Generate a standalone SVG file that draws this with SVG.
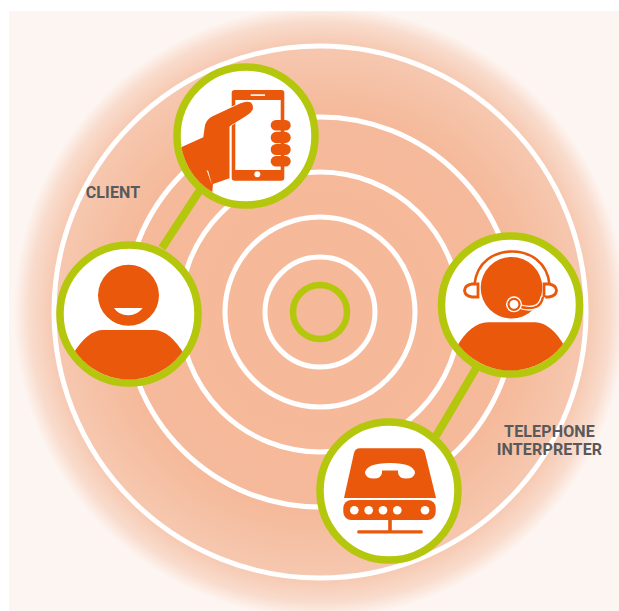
<svg xmlns="http://www.w3.org/2000/svg" width="619" height="611" viewBox="0 0 619 611">
<style>
.ring{fill:none;stroke:#fff;stroke-width:5}
.node{fill:#fff;stroke:#b4c70c;stroke-width:7.5}
.o{fill:#ea580c}
.w{fill:#fff}
.link{stroke:#b4c70c;stroke-width:8;fill:none}
text{font-family:Roboto,"Liberation Sans",Arial,sans-serif;font-weight:700;font-size:16px;letter-spacing:.15px;fill:#58595b}
</style>
<defs>
<radialGradient id="bg" gradientUnits="userSpaceOnUse" cx="320" cy="312" r="306">
<stop offset="0" stop-color="#f5b99a"/>
<stop offset=".66" stop-color="#f5ba9b"/>
<stop offset=".87" stop-color="#f6c8b0"/>
<stop offset=".95" stop-color="#f9dccd"/>
<stop offset="1" stop-color="#fdf5f1"/>
</radialGradient>
<clipPath id="cp"><circle cx="246" cy="136" r="65.5"/></clipPath>
<clipPath id="ci"><circle cx="510.5" cy="305" r="65.5"/></clipPath>
<clipPath id="cc"><circle cx="129" cy="314" r="65.5"/></clipPath>
</defs>
<rect x="9" y="11" width="610" height="600" fill="url(#bg)"/>
<g id="rings">
<circle class="ring" cx="320" cy="312" r="266"/>
<circle class="ring" cx="320" cy="312" r="195"/>
<circle class="ring" cx="320" cy="312" r="140"/>
<circle class="ring" cx="320" cy="312" r="95"/>
<circle class="ring" cx="320" cy="312" r="55"/>
</g>
<g id="connectors">
<line class="link" x1="162" y1="248" x2="200" y2="190"/>
<line class="link" x1="478" y1="365" x2="436" y2="436"/>
</g>
<circle id="center" cx="320" cy="312" r="27" fill="none" stroke="#b4c70c" stroke-width="6.5"/>
<g id="phone">
<circle class="node" cx="246" cy="136" r="69"/>
<rect class="o" x="231.7" y="90" width="52.6" height="90.7" rx="3"/>
<rect class="w" x="235.3" y="100" width="45.4" height="70"/>
<rect class="w" x="250.7" y="94.3" width="14.3" height="1.6"/>
<circle class="w" cx="257.3" cy="174.3" r="3"/>
<rect class="o" x="270.7" y="120" width="20" height="10.4" rx="5.2"/>
<rect class="o" x="270.7" y="131.8" width="20" height="11.4" rx="5.7"/>
<rect class="o" x="270.7" y="144" width="20" height="11" rx="5.5"/>
<rect class="o" x="270.7" y="156" width="20" height="10.4" rx="5.2"/>
<g clip-path="url(#cp)">
<path class="o" stroke="#fff" stroke-width="1.4" paint-order="stroke" d="M175 150L203.3 137.3L205 125Q207 119 212 116.5L240 103.5Q247 100.5 251 102.5Q254 106 252.5 110Q251 113 246 116L231.5 125L229.5 126.5V178.3L213 184L212 195L190 195Z"/>
<path class="w" d="M206.6 170L212 185L208.2 171Z"/>
</g>
</g>
<g id="client">
<circle class="node" cx="129" cy="314" r="69"/>
<circle class="o" cx="128.5" cy="295.3" r="30.5"/>
<path class="w" d="M114 308H142.7Q137 315.5 128.3 315.3Q119 315.5 114 308Z"/>
<path class="o" clip-path="url(#cc)" d="M73 354Q87 331 102 330H155Q170 331 184 354L190 390H68Z"/>
</g>
<g id="interpreter">
<circle class="node" cx="510.5" cy="305" r="69"/>
<circle class="o" cx="511.5" cy="287.7" r="30.8"/>
<path fill="none" stroke="#ea580c" stroke-width="2.6" d="M474.5 284C477 262 494 251.5 512 251.5C530 251.5 547 262 549.5 284"/>
<path fill="#fff" stroke="#ea580c" stroke-width="2.8" d="M478 284H472Q465 285 464.5 290.5Q465 296 472 297H478Z"/>
<path fill="#fff" stroke="#ea580c" stroke-width="2.8" d="M544 284H549Q556 285 556.5 290.5Q556 296 549 297H544Z"/>
<path fill="none" stroke="#fff" stroke-width="5" d="M518 306Q530 310 537 306.5Q541.5 304 543 297"/>
<path fill="none" stroke="#ea580c" stroke-width="2.4" d="M518 306Q530 310 537 306.5Q541.5 304 543 297"/>
<circle class="w" cx="514" cy="304.3" r="8"/>
<circle class="o" cx="514" cy="304.3" r="6.6"/>
<circle class="w" cx="514" cy="304.3" r="4.4"/>
<path class="o" clip-path="url(#ci)" d="M456 348Q470 323 488 322.3H535Q552 323 565.5 348L570 385H450Z"/>
</g>
<g id="device">
<circle class="node" cx="389" cy="491" r="69"/>
<path class="o" d="M360 448.3H419Q424 448.3 425 453L436 498H344L354 453Q355 448.3 360 448.3Z"/>
<rect class="o" x="343.3" y="500" width="92.4" height="20" rx="8"/>
<g class="w">
<circle cx="354.3" cy="510.3" r="4.3"/><circle cx="368.7" cy="510.3" r="4.3"/><circle cx="383" cy="510.3" r="4.3"/><circle cx="397.3" cy="510.3" r="4.3"/><circle cx="425" cy="510.3" r="4.3"/>
</g>
<path class="w" d="M365 473Q366 463 390 463Q414 463 415 473Q414 478.5 406 478.5Q399 478.5 398 473V470.5H382V473Q381 478.5 374 478.5Q366 478.5 365 473Z"/>
<rect class="o" x="388.2" y="520" width="3.6" height="12"/>
<rect class="o" x="357.3" y="530.2" width="65.4" height="3.2" rx="1.2"/>
</g>
<text x="113" y="198" text-anchor="middle">CLIENT</text>
<text text-anchor="middle"><tspan x="549.5" y="437">TELEPHONE</tspan><tspan x="549.5" y="455">INTERPRETER</tspan></text>
</svg>
